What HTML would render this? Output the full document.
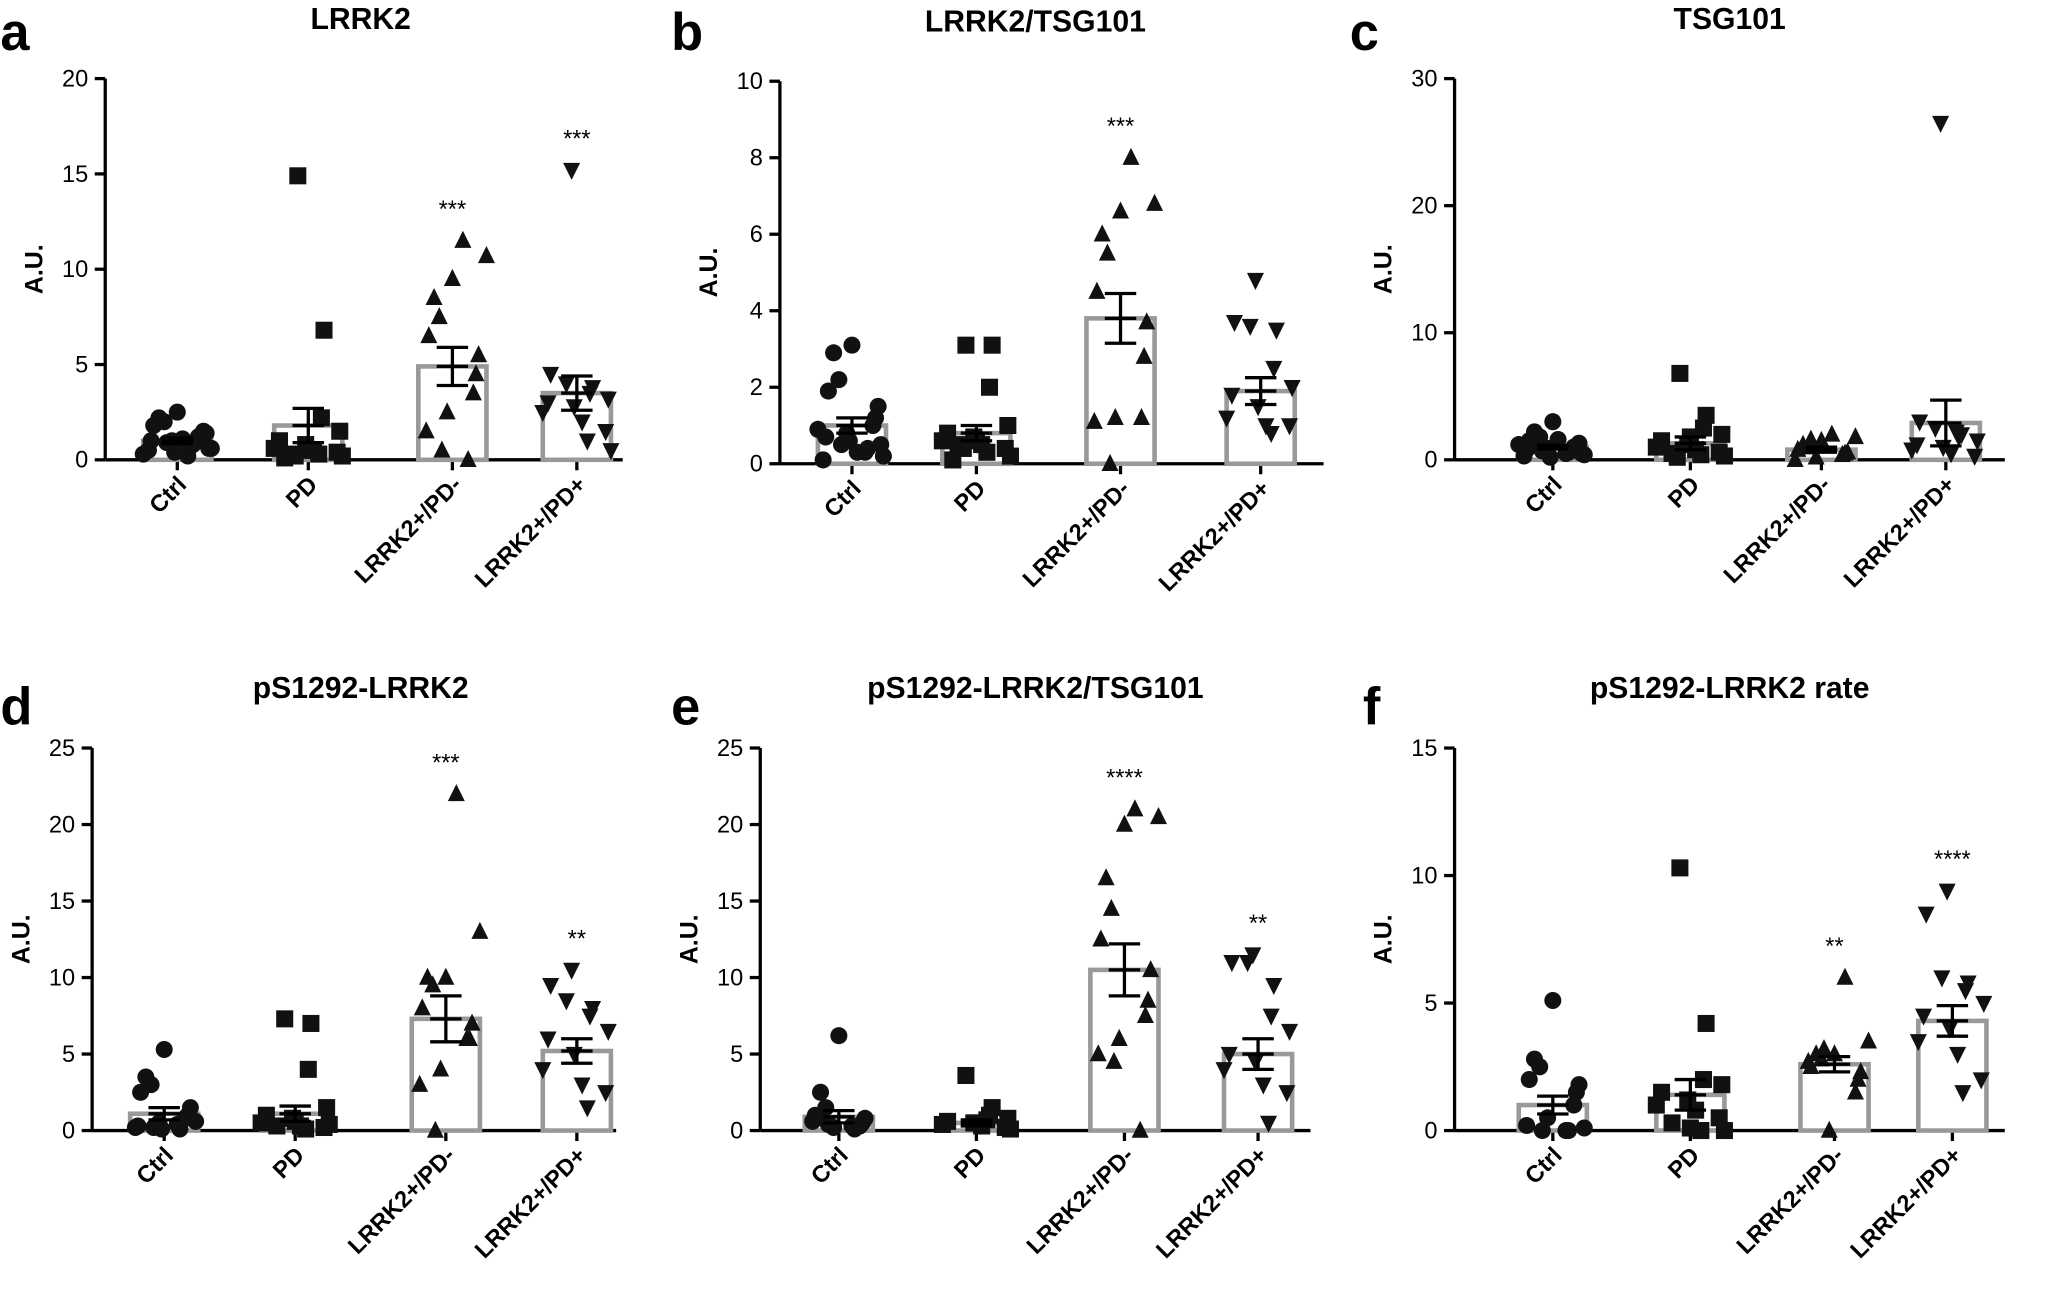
<!DOCTYPE html>
<html><head><meta charset="utf-8"><style>
html,body{margin:0;padding:0;background:#fff}
svg{display:block}
text{font-family:"Liberation Sans",sans-serif}
</style></head><body>
<svg id="s" width="2055" height="1293" viewBox="0 0 1568 987" xmlns="http://www.w3.org/2000/svg">
<rect width="1568" height="987" fill="#fff"/>
</svg>
<script>
const S=document.getElementById('s');let h='';
function mk(m,x,y){const r=6.5;
 if(m=='c')return `<circle cx="${x}" cy="${y}" r="${r}" fill="#111"/>`;
 if(m=='s')return `<rect x="${x-r}" y="${y-r}" width="${2*r}" height="${2*r}" fill="#111"/>`;
 if(m=='u')return `<polygon points="${x},${y-r-1} ${x-r},${y+r-1} ${x+r},${y+r-1}" fill="#111"/>`;
 return `<polygon points="${x},${y+r+1} ${x-r},${y-r+1} ${x+r},${y-r+1}" fill="#111"/>`;}
const cats=['Ctrl','PD','LRRK2+/PD-','LRRK2+/PD+'],ms=['c','s','u','d'];
const J=[0,-18,16,-8,24,-26,8,-14,20,-4,12,-22,4,26,-10,18,-20,10,-2,22];
function panel(P){const {ax,xe,y0,top,ymax,ticks,cx,G,title,tx,letter,lx,ly}=P;
 const k=(y0-top)/ymax,Y=v=>y0-v*k;
 h+=`<text x="${lx}" y="${ly}" font-size="40" font-weight="bold">${letter}</text>`;
 h+=`<text x="${tx}" y="${top-38}" font-size="23" font-weight="bold" text-anchor="middle">${title}</text>`;
 h+=`<line x1="${ax}" y1="${top}" x2="${ax}" y2="${y0}" stroke="#000" stroke-width="2.5"/>`;
 h+=`<line x1="${ax}" y1="${y0}" x2="${xe}" y2="${y0}" stroke="#000" stroke-width="2.5"/>`;
 ticks.forEach(t=>{h+=`<line x1="${ax-8}" y1="${Y(t)}" x2="${ax}" y2="${Y(t)}" stroke="#000" stroke-width="2.5"/><text x="${ax-13}" y="${Y(t)+6}" font-size="18" text-anchor="end">${t}</text>`;});
 h+=`<text transform="translate(${ax-48},${(top+y0)/2}) rotate(-90)" font-size="19" font-weight="bold" text-anchor="middle">A.U.</text>`;
 G.forEach((g,i)=>{const c=cx[i];
  h+=`<line x1="${c}" y1="${y0}" x2="${c}" y2="${y0+8}" stroke="#000" stroke-width="2.5"/>`;
  h+=`<text transform="translate(${c+8},${y0+20}) rotate(-45)" font-size="18" font-weight="bold" text-anchor="end">${cats[i]}</text>`;
  const m=Y(g.m);
  h+=`<rect x="${c-26}" y="${m}" width="52" height="${y0-m}" fill="none" stroke="#999" stroke-width="3.5"/>`;
  g.v.forEach((v,j)=>{const dx=J[(j*7+i*3)%20];h+=mk(ms[i],c+dx,Y(v));});
  const a=Y(g.m+g.s),b=Y(g.m-g.s);
  h+=`<line x1="${c}" y1="${a}" x2="${c}" y2="${b}" stroke="#000" stroke-width="2.5"/><line x1="${c-12}" y1="${a}" x2="${c+12}" y2="${a}" stroke="#000" stroke-width="2.5"/><line x1="${c-12}" y1="${b}" x2="${c+12}" y2="${b}" stroke="#000" stroke-width="2.5"/><line x1="${c-12}" y1="${m}" x2="${c+12}" y2="${m}" stroke="#000" stroke-width="2.5"/>`;
  if(g.st){const mx=Math.max(...g.v);h+=`<text x="${c}" y="${Y(mx)-18}" font-size="18" text-anchor="middle">${g.st}</text>`;}
 });}
panel({ax:80,xe:475,y0:351,top:60,ymax:20,ticks:[0,5,10,15,20],cx:[135,235,345,440],title:'LRRK2',tx:275,letter:'a',lx:0,ly:38,
 G:[{v:[2.5,2.2,2,1.8,1.5,1.3,1.2,1,1,0.9,0.8,0.7,0.6,0.5,0.4,0.3,1.1,1.4,0.2,0.6],m:1,s:0.15},
 {v:[14.9,6.8,2.2,1.5,1,0.8,0.6,0.5,0.4,0.3,0.2,0.5,0.3,0.2,0.1],m:1.8,s:0.9},
 {v:[11.5,10.7,9.5,8.5,7.5,6.5,5.5,4.5,3.5,2.5,1.5,0.5,0],m:4.9,s:1,st:'***'},
 {v:[15.2,4.5,4,3.8,3.5,3.2,3,2.8,2.5,2,1.5,1,0.5],m:3.5,s:0.9,st:'***'}]});
panel({ax:595,xe:1010,y0:354,top:62,ymax:10,ticks:[0,2,4,6,8,10],cx:[650,745,855,962],title:'LRRK2/TSG101',tx:790,letter:'b',lx:512,ly:38,
 G:[{v:[3.1,2.9,2.2,1.9,1.5,1.2,1,0.8,0.7,0.5,0.4,0.3,0.2,0.1,0.6,0.9,0.3,0.5],m:1,s:0.2},
 {v:[3.1,3.1,2,1,0.8,0.7,0.6,0.5,0.4,0.3,0.2,0.6,0.5,0.4,0.1],m:0.8,s:0.2},
 {v:[8,6.8,6.6,6,5.5,4.5,3.7,2.8,1.2,1.2,1.1,0],m:3.8,s:0.65,st:'***'},
 {v:[4.8,3.7,3.6,3.5,2.5,2,1.8,1.5,1.2,1,1,0.8],m:1.9,s:0.35}]});
panel({ax:1110,xe:1530,y0:351,top:60,ymax:30,ticks:[0,10,20,30],cx:[1185,1290,1390,1485],title:'TSG101',tx:1320,letter:'c',lx:1030,ly:38,
 G:[{v:[3,2.2,1.8,1.5,1.3,1.1,1,0.9,0.8,0.7,0.6,0.5,0.4,0.3,0.2,1.2,1.6,0.5],m:1,s:0.15},
 {v:[6.8,3.5,2.5,2,1.5,1.2,1,0.8,0.6,0.4,0.3,1.8,0.5,0.2],m:1.3,s:0.5},
 {v:[2,1.8,1.5,1.2,1,0.8,0.6,0.5,0.4,0.2,0,1.6],m:0.8,s:0.2},
 {v:[26.5,3,2.5,2,1.8,1.5,1.2,1,0.8,0.5,0.3,2.2],m:2.9,s:1.8}]});
panel({ax:70,xe:470,y0:863,top:571,ymax:25,ticks:[0,5,10,15,20,25],cx:[125,225,340,440],title:'pS1292-LRRK2',tx:275,letter:'d',lx:0,ly:553,
 G:[{v:[5.3,3.5,3,2.5,1.5,1,0.8,0.5,0.3,0.2,0.1,0.4,0.6,0.2,0.1],m:1.1,s:0.4},
 {v:[7.3,7,4,1.5,1,0.8,0.5,0.3,0.2,0.1,0.4,0.6,0.3],m:1.1,s:0.5},
 {v:[22,13,10,10,9.5,8,7,6,6,4,3,0],m:7.3,s:1.5,st:'***'},
 {v:[10.5,9.5,8.5,8,7.5,6.5,6,5,4,3,2.5,1.5],m:5.2,s:0.8,st:'**'}]});
panel({ax:580,xe:1000,y0:863,top:571,ymax:25,ticks:[0,5,10,15,20,25],cx:[640,745,858,960],title:'pS1292-LRRK2/TSG101',tx:790,letter:'e',lx:512,ly:553,
 G:[{v:[6.2,2.5,1.5,1,0.8,0.5,0.3,0.2,0.6,0.4,0.1,0.3],m:0.9,s:0.4},
 {v:[3.6,1.5,1,0.8,0.6,0.5,0.4,0.3,0.2,0.7,0.1,0.5],m:0.5,s:0.2},
 {v:[21,20.5,20,16.5,14.5,12.5,10.5,8.5,7.5,6,5,4.5,0],m:10.5,s:1.7,st:'****'},
 {v:[11.5,11,11,9.5,7.5,6.5,5,4.5,4,3,2.5,0.5],m:5,s:1,st:'**'}]});
panel({ax:1110,xe:1530,y0:863,top:571,ymax:15,ticks:[0,5,10,15],cx:[1185,1290,1400,1490],title:'pS1292-LRRK2 rate',tx:1320,letter:'f',lx:1040,ly:553,
 G:[{v:[5.1,2.8,2.5,2,1.8,1.5,1,0.5,0.2,0,0,0,0.1],m:1,s:0.35},
 {v:[10.3,4.2,2,1.8,1.5,1.2,1,0.8,0.5,0,0,0.1,0.3],m:1.4,s:0.6},
 {v:[6,3.5,3,3,2.8,2.5,2.3,2,1.5,0,2.7,3.2],m:2.6,s:0.3,st:'**'},
 {v:[9.4,8.5,6,5.8,5.5,5,4.5,4,3.5,3,2,1.5],m:4.3,s:0.6,st:'****'}]});
S.innerHTML+=h;
</script>
</body></html>
